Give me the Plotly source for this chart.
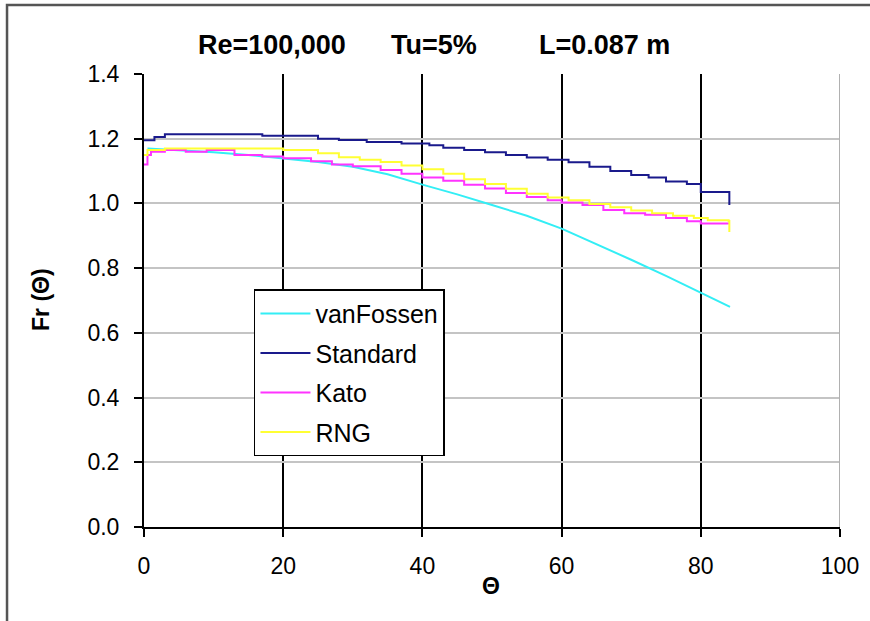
import plotly.graph_objects as go

# Theta (deg) and Fr(theta) for each model
theta_vanfossen = [0.5, 5, 10, 15, 20, 25, 30, 35, 40, 45, 50, 55, 60, 65, 70, 75, 80, 84.2]
fr_vanfossen = [1.17, 1.165, 1.158, 1.15, 1.14, 1.128, 1.113, 1.09, 1.058, 1.028, 0.995,
                0.962, 0.922, 0.875, 0.826, 0.776, 0.723, 0.68]

theta_standard = [0, 1.5, 3, 17, 25, 28, 32, 37, 41, 43, 46, 49, 52, 55, 58, 61, 64, 67,
                  70, 72.5, 75, 78, 80, 84, 84.1]
fr_standard = [1.195, 1.205, 1.214, 1.209, 1.2, 1.196, 1.19, 1.185, 1.18, 1.172, 1.165,
               1.158, 1.15, 1.142, 1.135, 1.127, 1.113, 1.1, 1.088, 1.08, 1.068, 1.06,
               1.035, 1.035, 0.995]

theta_kato = [0, 0.5, 1, 3, 6, 9, 13, 17, 20, 24, 27, 30, 34, 37, 40, 43, 46, 49, 52, 55,
              58, 60, 63, 66, 69, 72, 75, 78, 80, 84]
fr_kato = [1.12, 1.15, 1.16, 1.165, 1.16, 1.165, 1.15, 1.145, 1.14, 1.13, 1.12, 1.115,
           1.103, 1.092, 1.08, 1.07, 1.058, 1.046, 1.032, 1.02, 1.01, 1.003, 0.995, 0.98,
           0.97, 0.965, 0.955, 0.945, 0.938, 0.936]

theta_rng = [0, 0.5, 3, 20, 25, 28, 31, 34, 37, 40, 43, 46, 49, 52, 55, 58, 61, 64, 67,
             70, 73, 76, 79, 81, 84, 84.1]
fr_rng = [1.15, 1.165, 1.17, 1.165, 1.155, 1.143, 1.135, 1.128, 1.117, 1.106, 1.092, 1.075,
          1.06, 1.045, 1.03, 1.018, 1.01, 0.998, 0.988, 0.978, 0.97, 0.962, 0.955, 0.948,
          0.946, 0.912]

series_names = ["vanFossen", "Standard", "Kato", "RNG"]
series_colors = ["#33eef5", "#1a1a8c", "#ff33ff", "#ffff33"]
series_shapes = ["linear", "hv", "hv", "hv"]
series_x = [theta_vanfossen, theta_standard, theta_kato, theta_rng]
series_y = [fr_vanfossen, fr_standard, fr_kato, fr_rng]

x_ticks = [0, 20, 40, 60, 80, 100]
y_ticks = [0.0, 0.2, 0.4, 0.6, 0.8, 1.0, 1.2, 1.4]

FONT = "Liberation Sans, Arial, sans-serif"

fig = go.Figure()
for name, color, shape, xs, ys in zip(series_names, series_colors, series_shapes,
                                      series_x, series_y):
    fig.add_trace(go.Scatter(
        x=xs, y=ys, mode="lines", name=name, legendgroup=name,
        line=dict(color=color, width=2, shape=shape),
    ))

fig.update_layout(
    width=870, height=621,
    margin=dict(l=144, r=30, t=74, b=94),
    paper_bgcolor="white", plot_bgcolor="white",
    font=dict(family=FONT, color="black"),
    showlegend=True,
    legend=dict(
        x=0.158, y=0.525, xanchor="left", yanchor="top",
        bgcolor="white", bordercolor="black", borderwidth=1.5,
        font=dict(size=25, family=FONT),
        tracegroupgap=4, itemwidth=50,
    ),
    xaxis=dict(
        range=[0, 100], tickvals=x_ticks, ticktext=[str(v) for v in x_ticks],
        showgrid=True, gridcolor="black", gridwidth=2,
        showline=True, linecolor="black", linewidth=2,
        ticks="outside", ticklen=8, tickwidth=2, tickcolor="black",
        tickfont=dict(size=23, family=FONT), ticklabelstandoff=9,
        zeroline=False,
    ),
    yaxis=dict(
        range=[0, 1.4], tickvals=y_ticks, ticktext=[f"{v:.1f}" for v in y_ticks],
        showgrid=True, gridcolor="#c4c4c4", gridwidth=2,
        showline=True, linecolor="black", linewidth=2,
        ticks="outside", ticklen=8, tickwidth=2, tickcolor="black",
        tickfont=dict(size=23, family=FONT), ticklabelstandoff=10,
        zeroline=False,
    ),
)

# light border on the right edge of the plotting area
fig.add_shape(type="line", xref="x", yref="paper", x0=100, x1=100, y0=0, y1=1,
              line=dict(color="#b0b0b0", width=2), layer="above")

# outer chart frame
fig.add_shape(type="rect", xref="paper", yref="paper",
              x0=-0.1968, x1=1.2, y0=-0.3, y1=1.1523,
              line=dict(color="#555555", width=2.5), layer="below")

# title and axis titles
title_font = dict(size=27, family=FONT)
for txt, px in [("Re=100,000", 272), ("Tu=5%", 434), ("L=0.087 m", 604)]:
    fig.add_annotation(text=f"<b>{txt}</b>", xref="paper", yref="paper",
                       x=(px - 144) / 696, y=(527 - 45) / 453, showarrow=False,
                       font=title_font, xanchor="center", yanchor="middle")
fig.add_annotation(text="<b>Θ</b>", xref="paper", yref="paper",
                   x=(491 - 144) / 696, y=(527 - 586) / 453, showarrow=False,
                   font=dict(size=23, family=FONT), xanchor="center", yanchor="middle")
fig.add_annotation(text="<b>Fr (Θ)</b>", xref="paper", yref="paper",
                   x=(41 - 144) / 696, y=(527 - 300) / 453, showarrow=False, textangle=-90,
                   font=dict(size=23, family=FONT), xanchor="center", yanchor="middle")

fig.write_html("out.html")
